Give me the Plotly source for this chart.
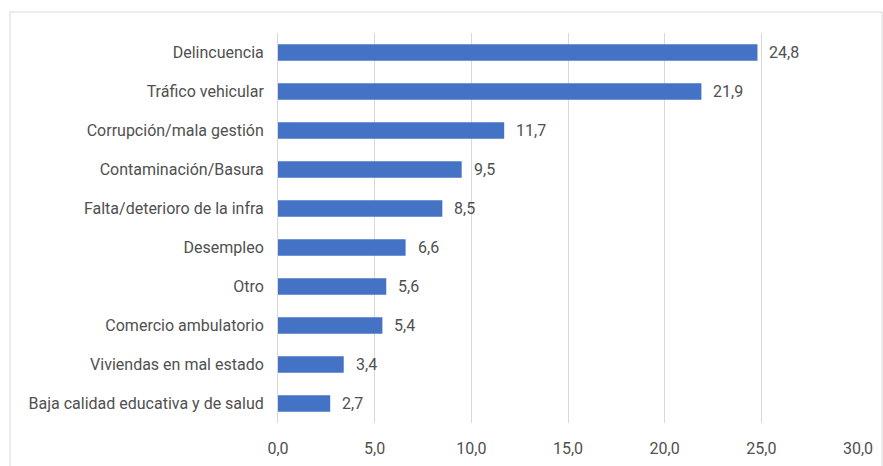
import plotly.graph_objects as go

# Principales problemas de la ciudad (%)
categorias = [
    "Delincuencia",
    "Tráfico vehicular",
    "Corrupción/mala gestión",
    "Contaminación/Basura",
    "Falta/deterioro de la infra",
    "Desempleo",
    "Otro",
    "Comercio ambulatorio",
    "Viviendas en mal estado",
    "Baja calidad educativa y de salud",
]
valores = [24.8, 21.9, 11.7, 9.5, 8.5, 6.6, 5.6, 5.4, 3.4, 2.7]
ticks_x = [0, 5, 10, 15, 20, 25, 30]

COLOR_BARRA = "#4472C4"
COLOR_TEXTO = "#505050"
FUENTE = "Roboto, Liberation Sans, sans-serif"
TAM = 16

fig = go.Figure(
    go.Bar(
        x=valores,
        y=categorias,
        orientation="h",
        marker=dict(color=COLOR_BARRA, line=dict(width=0)),
        width=0.42,
        hoverinfo="skip",
    )
)

# etiquetas de valor a la derecha de cada barra
for cat, val in zip(categorias, valores):
    fig.add_annotation(
        x=val,
        y=cat,
        xref="x",
        yref="y",
        text=f"{val:.1f}".replace(".", ","),
        showarrow=False,
        xanchor="left",
        xshift=10,
        font=dict(size=TAM, color=COLOR_TEXTO, family=FUENTE),
    )

fig.update_layout(
    width=883,
    height=466,
    margin=dict(l=278, r=25, t=33, b=43),
    paper_bgcolor="white",
    plot_bgcolor="white",
    separators=",.",
    showlegend=False,
    font=dict(family=FUENTE, size=TAM, color=COLOR_TEXTO),
    xaxis=dict(
        range=[0, 30],
        tickvals=ticks_x,
        tickformat=".1f",
        showgrid=True,
        gridcolor="#d9d9d9",
        gridwidth=1,
        zeroline=False,
        showline=False,
        ticks="",
        ticklabelstandoff=14,
        automargin=False,
        tickfont=dict(size=TAM, color=COLOR_TEXTO),
        fixedrange=True,
    ),
    yaxis=dict(
        categoryorder="array",
        categoryarray=categorias[::-1],
        autorange=True,
        showgrid=False,
        zeroline=False,
        showline=True,
        linecolor="#d9d9d9",
        linewidth=1,
        ticks="",
        ticklabelstandoff=10,
        automargin=False,
        tickfont=dict(size=TAM, color=COLOR_TEXTO),
        fixedrange=True,
    ),
    shapes=[
        # marco del gráfico
        dict(
            type="rect",
            xref="paper",
            yref="paper",
            x0=(10 - 278) / 580,
            x1=(882 - 278) / 580,
            y0=-0.2,
            y1=(423 - 12) / 390,
            line=dict(color="#d9d9d9", width=1),
            fillcolor="rgba(0,0,0,0)",
            layer="below",
        )
    ],
)

fig.write_html("out.html")
